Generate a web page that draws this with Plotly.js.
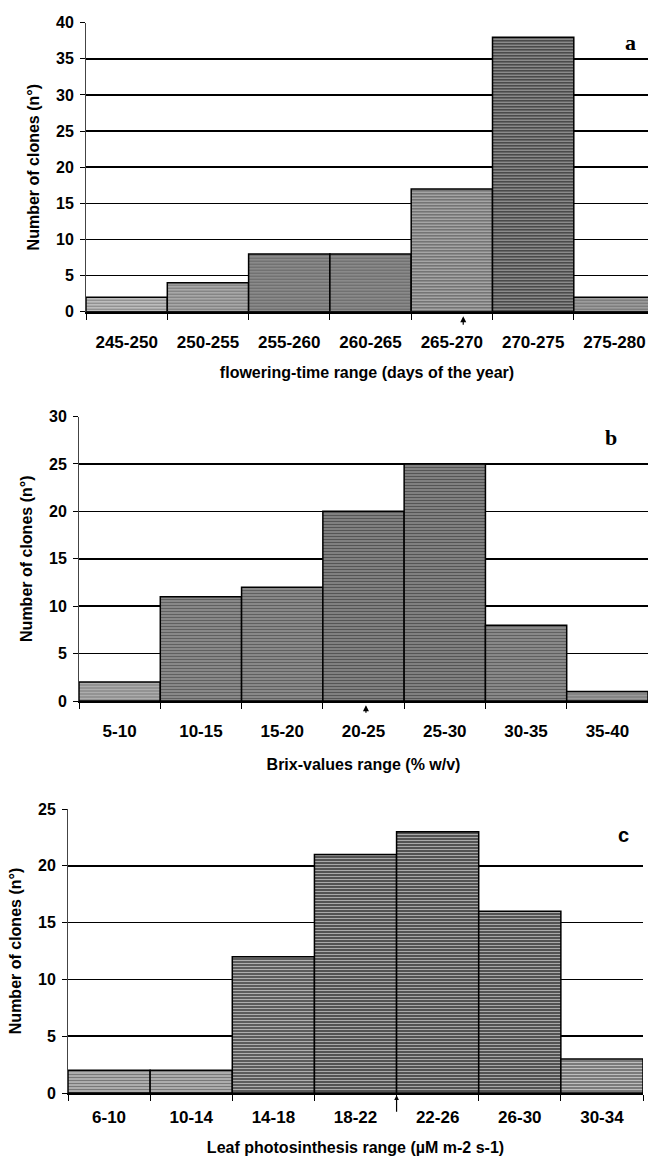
<!DOCTYPE html>
<html>
<head>
<meta charset="utf-8">
<script src="https://cdn.plot.ly/plotly-3.0.1.min.js"></script>
<style>html,body{margin:0;padding:0;background:#fff;overflow:hidden}</style>
</head>
<body>
<div id="chart" style="width:648px;height:1156px"></div>
<script>
// ---- data ----
const floweringRanges = ['245-250','250-255','255-260','260-265','265-270','270-275','275-280'];
const floweringCounts = [2, 4, 8, 8, 17, 38, 2];
const brixRanges = ['5-10','10-15','15-20','20-25','25-30','30-35','35-40'];
const brixCounts = [2, 11, 12, 20, 25, 8, 1];
const photoRanges = ['6-10','10-14','14-18','18-22','22-26','26-30','30-34'];
const photoCounts = [2, 2, 12, 21, 23, 16, 3];
// mean markers (position along category index)
const floweringMean = 4.14;
const brixMean = 3.03;
const photoMean = 3.5;

// ---- styles ----
const shadeA = ['#bdbdbd','#a8a8a8','#8a8a8a','#8a8a8a','#747474','#4a4a4a','#9c9c9c'];
const shadeB = ['#adadad','#606060','#606060','#555555','#555555','#606060','#9a9a9a'];
const shadeC = ['#acacac','#acacac','#5c5c5c','#535353','#535353','#535353','#7a7a7a'];

const FONT = 'Arial, "Liberation Sans", sans-serif';
const SERIF = '"Liberation Serif", "Times New Roman", serif';
const W = 648, H = 1156;
const px = v => v / W;
const py = v => 1 - v / H;

function barTrace(x, y, shade, xa, ya) {
  return {
    type: 'bar', x: x, y: y, xaxis: xa, yaxis: ya,
    marker: {
      color: shade,
      line: {color: '#000', width: 1.5},
      pattern: {shape: '-', fillmode: 'overlay', fgcolor: '#111', size: 3, solidity: 0.35}
    },
    hoverinfo: 'x+y', showlegend: false
  };
}

const tickFont = {family: FONT, size: 17, color: '#000', weight: 'bold'};
const yTickFont = {family: FONT, size: 16, color: '#000', weight: 'bold'};
const titleFont = {family: FONT, size: 16, color: '#000', weight: 'bold'};

function xAxis(domain, range, anchor, standoff, title, titleStandoff) {
  return {
    domain: domain, range: range, anchor: anchor, type: 'category',
    tickson: 'boundaries', ticks: 'outside', ticklen: 6, tickwidth: 1, tickcolor: '#000',
    showline: true, linecolor: '#000', linewidth: 2,
    showgrid: false, tickfont: tickFont, ticklabelstandoff: standoff,
    title: {text: title, font: titleFont, standoff: titleStandoff},
    fixedrange: true
  };
}
function yAxis(domain, range, anchor, title) {
  return {
    domain: domain, range: range, anchor: anchor, dtick: 5, tick0: 0,
    ticks: 'outside', ticklen: 5, tickwidth: 1, tickcolor: '#000',
    showline: true, linecolor: '#444', linewidth: 1,
    showgrid: true, gridcolor: '#000', gridwidth: 1.6,
    zeroline: true, zerolinecolor: '#000', zerolinewidth: 2,
    tickfont: yTickFont, ticklabelstandoff: 3,
    title: {text: title, font: titleFont, standoff: 12},
    fixedrange: true
  };
}

const data = [
  barTrace(floweringRanges, floweringCounts, shadeA, 'x', 'y'),
  barTrace(brixRanges, brixCounts, shadeB, 'x2', 'y2'),
  barTrace(photoRanges, photoCounts, shadeC, 'x3', 'y3')
];

const layout = {
  width: W, height: H,
  margin: {l: 0, r: 0, t: 0, b: 0},
  paper_bgcolor: '#fff', plot_bgcolor: '#fff',
  bargap: 0,
  font: {family: FONT, color: '#000'},
  xaxis: xAxis([px(86), 1], [-0.5, -0.5 + (W - 86) / 81.3], 'y', 14,
    'flowering-time range (days of the year)', 16),
  yaxis: yAxis([py(311.7), py(22.7)], [0, 40], 'x', 'Number of clones (n°)'),
  xaxis2: xAxis([px(79), 1], [-0.5, 6.5], 'y2', 14, 'Brix-values range (% w/v)', 18),
  yaxis2: yAxis([py(701), py(416.5)], [0, 30], 'x2', 'Number of clones (n°)'),
  xaxis3: xAxis([px(68), px(643)], [-0.5, 6.5], 'y3', 8,
    'Leaf photosinthesis range (µM m-2 s-1)', 17),
  yaxis3: yAxis([py(1093), py(809)], [0, 25], 'x3', 'Number of clones (n°)'),
  annotations: [
    {xref: 'x', yref: 'y', x: 6.2, y: 37.3, text: 'a', showarrow: false,
     font: {family: SERIF, size: 22, weight: 'bold', color: '#000'}},
    {xref: 'x2', yref: 'y2', x: 6.04, y: 27.8, text: 'b', showarrow: false,
     font: {family: SERIF, size: 22, weight: 'bold', color: '#000'}},
    {xref: 'x3', yref: 'y3', x: 6.26, y: 22.7, text: 'c', showarrow: false,
     font: {family: FONT, size: 20, weight: 'bold', color: '#000'}},
    {xref: 'x', yref: 'y domain', x: floweringMean, y: -0.016, text: '', showarrow: true,
     ax: 0, ay: 10, arrowhead: 2, arrowsize: 1, arrowwidth: 1.2, arrowcolor: '#000'},
    {xref: 'x2', yref: 'y2 domain', x: brixMean, y: -0.015, text: '', showarrow: true,
     ax: 0, ay: 9, arrowhead: 2, arrowsize: 1, arrowwidth: 1.2, arrowcolor: '#000'},
    {xref: 'x3', yref: 'y3 domain', x: photoMean, y: -0.008, text: '', showarrow: true,
     ax: 0, ay: 18, arrowhead: 2, arrowsize: 0.8, arrowwidth: 1.2, arrowcolor: '#000'}
  ]
};

Plotly.newPlot('chart', data, layout, {displayModeBar: false, staticPlot: true});
</script>
</body>
</html>
